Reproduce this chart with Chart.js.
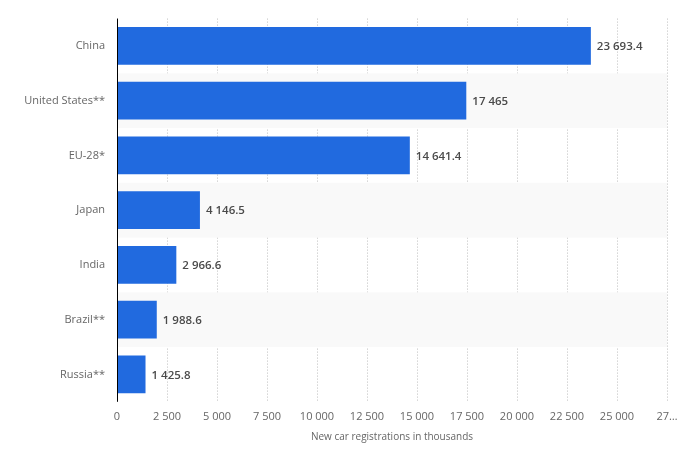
<!DOCTYPE html>
<html>
<head>
<meta charset="utf-8">
<script src="https://cdn.jsdelivr.net/npm/chart.js@4"></script>
<style>
  html, body { margin: 0; padding: 0; background: #fff; }
  #wrap { width: 690px; height: 455px; }
</style>
</head>
<body>
<div id="wrap"><canvas id="chart"></canvas></div>
<script>
const countries = ['China', 'United States**', 'EU-28*', 'Japan', 'India', 'Brazil**', 'Russia**'];
const registrations = [23693.4, 17465, 14641.4, 4146.5, 2966.6, 1988.6, 1425.8];
const xTicks = [0, 2500, 5000, 7500, 10000, 12500, 15000, 17500, 20000, 22500, 25000, 27500];

const FONT = '"Open Sans", "Liberation Sans", sans-serif';

// numbers like "23 693.4"
function fmt(v) {
    const parts = String(v).split('.');
    parts[0] = parts[0].replace(/\B(?=(\d{3})+(?!\d))/g, ' ');
    return parts.join('.');
}

// light stripes behind every second row
const stripes = {
    id: 'stripes',
    beforeDatasetsDraw(chart) {
        const { ctx, chartArea, scales } = chart;
        const y = scales.y;
        const step = y.getPixelForValue(1) - y.getPixelForValue(0);
        ctx.save();
        ctx.fillStyle = '#f9f9f9';
        countries.forEach((c, i) => {
            if (i % 2 === 1) {
                const mid = y.getPixelForValue(i);
                ctx.fillRect(chartArea.left, mid - step / 2, chartArea.right - chartArea.left, step);
            }
        });
        ctx.restore();
    }
};

// value next to each bar
const valueLabels = {
    id: 'valueLabels',
    afterDatasetsDraw(chart) {
        const { ctx } = chart;
        const meta = chart.getDatasetMeta(0);
        ctx.save();
        ctx.font = '600 11.5px ' + FONT;
        ctx.fillStyle = '#4a4a4a';
        ctx.textBaseline = 'middle';
        ctx.textAlign = 'left';
        meta.data.forEach((bar, i) => {
            ctx.fillText(fmt(registrations[i]), bar.x + 6, bar.y + 1);
        });
        ctx.restore();
    }
};

// solid black line for the category axis
const leftLine = {
    id: 'leftLine',
    afterDatasetsDraw(chart) {
        const { ctx, chartArea } = chart;
        ctx.save();
        ctx.strokeStyle = '#000';
        ctx.lineWidth = 1;
        ctx.beginPath();
        ctx.moveTo(chartArea.left + 0.5, chartArea.top);
        ctx.lineTo(chartArea.left + 0.5, chartArea.bottom);
        ctx.stroke();
        ctx.restore();
    }
};

new Chart(document.getElementById('chart'), {
    type: 'bar',
    data: {
        labels: countries,
        datasets: [{
            data: registrations,
            backgroundColor: '#216ADF',
            borderWidth: 0,
            categoryPercentage: 0.69,
            barPercentage: 1
        }]
    },
    options: {
        indexAxis: 'y',
        responsive: true,
        maintainAspectRatio: false,
        animation: false,
        layout: { padding: { top: 14, right: 23, bottom: 12, left: 0 } },
        plugins: {
            legend: { display: false },
            tooltip: { enabled: false }
        },
        scales: {
            x: {
                min: 0,
                max: 27500,
                afterBuildTicks(axis) {
                    axis.ticks = xTicks.map(v => ({ value: v }));
                },
                grid: {
                    color: '#bdbdbd',
                    lineWidth: 1,
                    drawTicks: false
                },
                border: { display: true, color: 'rgba(0,0,0,0)', dash: [1, 2] },
                ticks: {
                    color: '#666',
                    font: { family: FONT, size: 11 },
                    padding: 8,
                    maxRotation: 0,
                    autoSkip: false,
                    callback: (v) => v === 27500 ? '27…' : fmt(v)
                },
                title: {
                    display: true,
                    text: 'New car registrations in thousands',
                    color: '#666',
                    font: { family: FONT, size: 10 },
                    padding: { top: 0, bottom: 0 }
                }
            },
            y: {
                grid: { display: false, drawTicks: false },
                border: { display: false },
                ticks: {
                    color: '#666',
                    font: { family: FONT, size: 11 },
                    padding: 12
                },
                afterFit(axis) { axis.width = 117; }
            }
        }
    },
    plugins: [stripes, valueLabels, leftLine]
});
</script>
</body>
</html>
